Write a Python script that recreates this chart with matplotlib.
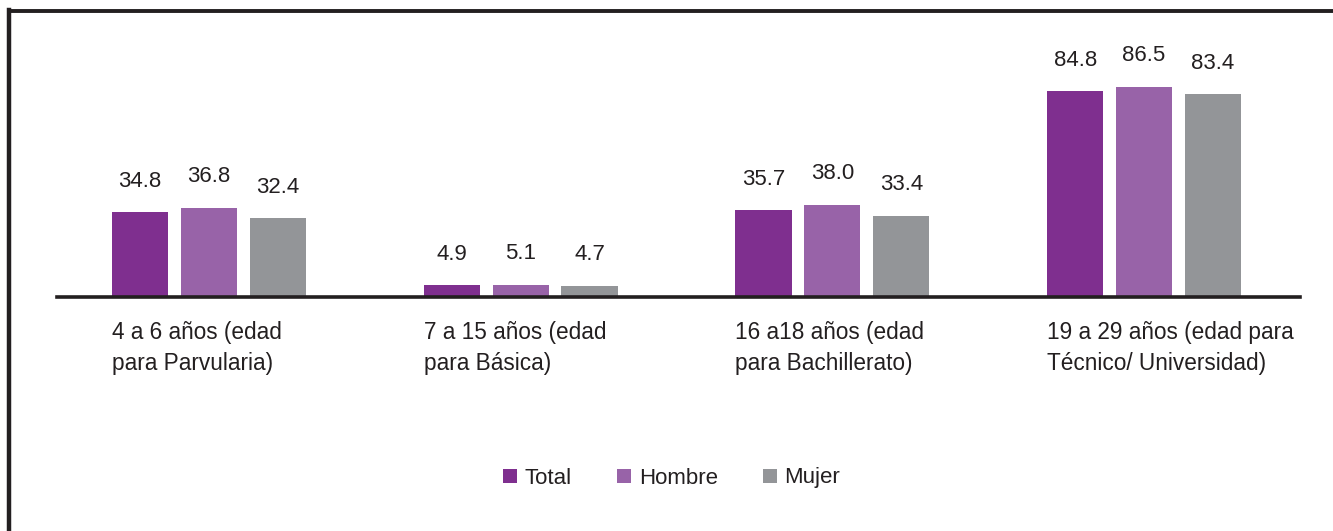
import matplotlib
matplotlib.use("Agg")
import matplotlib.pyplot as plt
from matplotlib.lines import Line2D
from matplotlib import transforms
import numpy as np

plt.rcParams['font.family'] = ['Liberation Sans', 'DejaVu Sans']

categories = ["4 a 6 años (edad\npara Parvularia)",
              "7 a 15 años (edad\npara Básica)",
              "16 a18 años (edad\npara Bachillerato)",
              "19 a 29 años (edad para\nTécnico/ Universidad)"]
series_names = ["Total", "Hombre", "Mujer"]
total = [34.8, 4.9, 35.7, 84.8]
hombre = [36.8, 5.1, 38.0, 86.5]
mujer = [32.4, 4.7, 33.4, 83.4]
values = [total, hombre, mujer]
colors = ["#7F2F8F", "#9863A8", "#939598"]

fig = plt.figure(figsize=(13.33, 5.31), dpi=100)
ax = fig.add_axes([57/1333, 1-297/531, (1300-57)/1333, (297-40)/531])

x = np.arange(len(categories))
width = 0.18
step = 0.221
for i, (name, vals, col) in enumerate(zip(series_names, values, colors)):
    pos = x + (i - 1) * step
    bars = ax.bar(pos, vals, width=width, color=col, label=name, zorder=2)
    for b, v in zip(bars, vals):
        ax.annotate(f"{v:.1f}", (b.get_x() + b.get_width()/2, v),
                    xytext=(0, 31), textcoords="offset pixels",
                    ha="center", va="center", fontsize=16, color="#231F20")

ax.set_xlim(-0.487, 3.5)
ax.set_ylim(0, 105.8)
for s in ["top", "right", "left"]:
    ax.spines[s].set_visible(False)
ax.spines["bottom"].set_linewidth(2.6)
ax.spines["bottom"].set_color("#231F20")
ax.set_yticks([])
ax.set_xticks([])

trans = transforms.blended_transform_factory(ax.transData, ax.transAxes)
for xi, lab in zip(x, categories):
    ax.text(xi - step - width/2, -24/257, lab, transform=trans, ha="left", va="top",
            fontsize=16.3, color="#231F20", linespacing=1.45)

leg = fig.legend(loc="center", bbox_to_anchor=(0.504, 1-478/531), ncol=3, frameon=False,
                 fontsize=16, handlelength=0.6, handleheight=0.6, handletextpad=0.36,
                 columnspacing=2.05, labelcolor="#231F20")

fig.add_artist(Line2D([9/1333, 9/1333], [0, 1-10/531], color="#231F20", lw=3.2,
                      transform=fig.transFigure, solid_capstyle="projecting"))
fig.add_artist(Line2D([9/1333, 1], [1-10.5/531, 1-10.5/531], color="#231F20", lw=2.8,
                      transform=fig.transFigure, solid_capstyle="projecting"))

fig.savefig("out.png", dpi=100)
